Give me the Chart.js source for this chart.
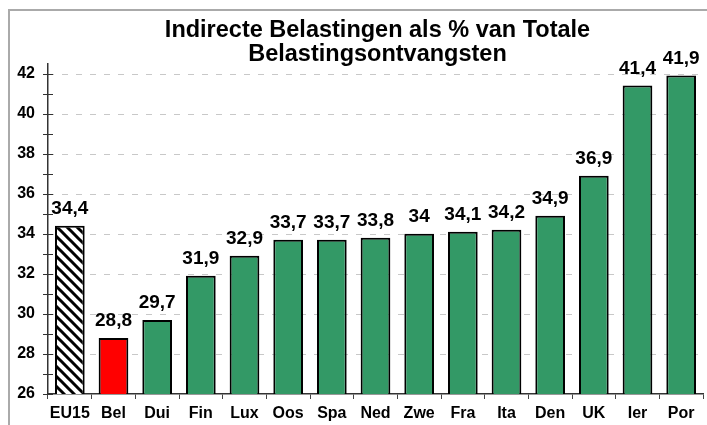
<!DOCTYPE html>
<html>
<head>
<meta charset="utf-8">
<script src="https://cdn.jsdelivr.net/npm/chart.js@4"></script>
<style>
  html, body { margin: 0; padding: 0; background: #fff; overflow: hidden; }
  #frame { position: absolute; left: 8px; top: 9px; width: 800px; height: 500px; border: 2px solid #aaa; }
  #myChart { position: absolute; left: 0; top: 0; }
</style>
</head>
<body>
<div id="frame"></div>
<canvas id="myChart" width="707" height="425"></canvas>
<script>
const categories = ["EU15", "Bel", "Dui", "Fin", "Lux", "Oos", "Spa", "Ned", "Zwe", "Fra", "Ita", "Den", "UK", "Ier", "Por"];
const values = [34.4, 28.8, 29.7, 31.9, 32.9, 33.7, 33.7, 33.8, 34, 34.1, 34.2, 34.9, 36.9, 41.4, 41.9];
const titleLines = ["Indirecte Belastingen als % van Totale", "Belastingsontvangsten"];
const yMin = 26;
const yMax = 42.5;
const yLabelStep = 2;

const FONT = "'Liberation Sans', Arial, sans-serif";
Chart.defaults.font.family = FONT;
Chart.defaults.color = "#000";

// hatch pattern for the EU15 bar
function hatch() {
  const c = document.createElement("canvas");
  c.width = 10; c.height = 10;
  const g = c.getContext("2d");
  g.fillStyle = "#fff";
  g.fillRect(0, 0, 10, 10);
  g.strokeStyle = "#000";
  g.lineWidth = 3;
  g.beginPath();
  g.moveTo(-2, -2); g.lineTo(12, 12);
  g.moveTo(-2, 8); g.lineTo(2, 12);
  g.moveTo(8, -2); g.lineTo(12, 2);
  g.stroke();
  return g.createPattern(c, "repeat");
}

const fills = categories.map((c, i) => i == 0 ? hatch() : (i == 1 ? "#ff0000" : "#339966"));

// dashed gridlines at the labelled values
const dashedGrid = {
  id: "dashedGrid",
  beforeDatasetsDraw(chart) {
    const ctx = chart.ctx;
    const y = chart.scales.y;
    const area = chart.chartArea;
    ctx.save();
    ctx.strokeStyle = "#c8c8c8";
    ctx.lineWidth = 1;
    ctx.setLineDash([6, 8]);
    ctx.lineDashOffset = -14;
    ctx.beginPath();
    for (let v = yMin + yLabelStep; v <= yMax; v += yLabelStep) {
      const py = Math.round(y.getPixelForValue(v)) + 0.5;
      ctx.moveTo(area.left, py);
      ctx.lineTo(area.right, py);
    }
    ctx.stroke();
    ctx.restore();
  }
};

// value labels above bars
const barLabels = {
  id: "barLabels",
  afterDatasetsDraw(chart) {
    const ctx = chart.ctx;
    const meta = chart.getDatasetMeta(0);
    ctx.save();
    ctx.font = "bold 19px " + FONT;
    ctx.fillStyle = "#000";
    ctx.textAlign = "center";
    ctx.textBaseline = "alphabetic";
    meta.data.forEach((bar, i) => {
      ctx.fillText(String(values[i]).replace(".", ","), bar.x, bar.y - 12);
    });
    ctx.restore();
  }
};

// y axis tick marks crossing the axis line
const yTickMarks = {
  id: "yTickMarks",
  afterDraw(chart) {
    const ctx = chart.ctx;
    const y = chart.scales.y;
    ctx.save();
    ctx.strokeStyle = "#333";
    ctx.lineWidth = 1;
    ctx.beginPath();
    for (let v = yMin; v <= Math.floor(yMax); v++) {
      const py = Math.round(y.getPixelForValue(v)) + 0.5;
      ctx.moveTo(y.right - 5, py);
      ctx.lineTo(y.right + 5, py);
    }
    ctx.stroke();
    ctx.restore();
  }
};

// title centred over the plot area
const plotTitle = {
  id: "plotTitle",
  afterDraw(chart) {
    const ctx = chart.ctx;
    const cx = (chart.chartArea.left + chart.chartArea.right) / 2 + 2;
    ctx.save();
    ctx.font = "bold 23.5px " + FONT;
    ctx.fillStyle = "#000";
    ctx.textAlign = "center";
    ctx.textBaseline = "alphabetic";
    ctx.fillText(titleLines[0], cx, 37);
    ctx.fillText(titleLines[1], cx, 61);
    ctx.restore();
  }
};

new Chart(document.getElementById("myChart"), {
  type: "bar",
  data: {
    labels: categories,
    datasets: [{
      data: values,
      backgroundColor: fills,
      borderColor: "#000",
      borderWidth: 2,
      borderSkipped: false,
      barPercentage: 0.68,
      categoryPercentage: 1
    }]
  },
  options: {
    responsive: false,
    animation: false,
    devicePixelRatio: 1,
    layout: { padding: { top: 63.5, right: 4, left: 0, bottom: 0 } },
    plugins: {
      legend: { display: false },
      title: { display: false },
      tooltip: { enabled: false }
    },
    scales: {
      x: {
        afterFit(scale) { scale.height = 31; },
        grid: {
          offset: true,
          drawOnChartArea: false,
          drawTicks: true,
          tickLength: 5,
          tickColor: "#444"
        },
        border: { display: true, color: "#333", width: 1.5 },
        ticks: {
          padding: 5,
          maxRotation: 0,
          autoSkip: false,
          font: { size: 16, weight: "bold" }
        }
      },
      y: {
        min: yMin,
        max: yMax,
        afterFit(scale) { scale.width = 48; },
        afterBuildTicks(scale) {
          const t = [];
          for (let v = yMin; v <= yMax; v += yLabelStep) t.push({ value: v });
          scale.ticks = t;
        },
        grid: { drawTicks: false, drawOnChartArea: false },
        border: { display: true, color: "#333", width: 1.5 },
        ticks: {
          padding: 13,
          autoSkip: false,
          font: { size: 16, weight: "bold" }
        }
      }
    }
  },
  plugins: [dashedGrid, barLabels, yTickMarks, plotTitle]
});
</script>
</body>
</html>
